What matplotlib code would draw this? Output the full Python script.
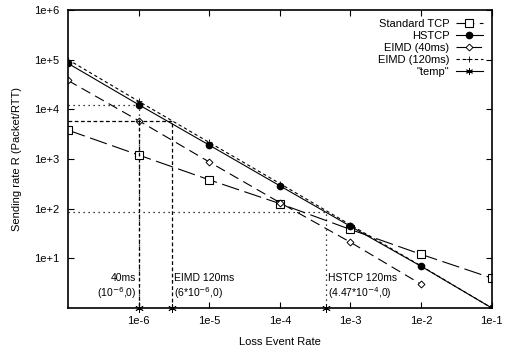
import matplotlib.pyplot as plt

plt.rcParams['font.family'] = ['Liberation Sans', 'DejaVu Sans']

# loss event rates where points are drawn
loss = [1e-7, 1e-6, 1e-5, 1e-4, 1e-3, 1e-2, 1e-1]
std_tcp = [3800, 1200, 380, 126, 38, 12, 4.0]
hstcp = [84000, 12400, 1900, 288, 44, 6.9, 1.0]
eimd_40 = [38000, 5900, 870, 132, 21, 3.0]
eimd_120 = [100000, 14500, 2150, 320, 47, 7.0, 1.0]

# crossing points ("temp") and their labels
temp_x = [1e-6, 2.95e-6, 4.47e-4]
temp_y = [1, 1, 1]
hstcp_40 = 12400
eimd_cross = 5800
hstcp_120 = 85

fig = plt.figure(figsize=(5.05, 3.56), dpi=100)
ax = fig.add_axes([0.1347, 0.135, 0.839, 0.837])

ax.plot(loss, std_tcp, color='black', lw=0.8, ls=(0, (16, 5)),
        marker='s', ms=5.5, mfc='white', mew=0.8, label='Standard TCP')
ax.plot(loss, hstcp, color='black', lw=0.8, ls='-',
        marker='o', ms=4.5, mfc='black', label='HSTCP')
ax.plot(loss[:len(eimd_40)], eimd_40, color='black', lw=0.8, ls=(0, (9, 5)),
        marker='D', ms=3.5, mfc='white', mew=0.7, label='EIMD (40ms)')
ax.plot(loss, eimd_120, color='black', lw=0.8, ls=(0, (3, 2.5)),
        marker='+', ms=4, mew=0.6, label='EIMD (120ms)')
ax.plot(temp_x, temp_y, color='black', lw=0.8, ls='none',
        marker=(6, 2, 0), ms=6, mew=0.6, clip_on=False, zorder=5)
ax.plot([], [], color='black', lw=0.8, marker=(6, 2, 0), ms=5, mew=0.6,
        label='"temp"')

# guide lines
ax.plot([1e-7, 1e-6, 1e-6], [hstcp_40, hstcp_40, 1], color='black', lw=0.9, ls=(0, (1, 3)))
ax.plot([1e-7, 2.95e-6, 2.95e-6], [eimd_cross, eimd_cross, 1], color='black', lw=0.9,
        ls=(0, (3, 2)))
ax.plot([1e-6, 1e-6], [eimd_cross, 1], color='black', lw=0.9, ls=(0, (3, 2)))
ax.plot([1e-7, 4.47e-4, 4.47e-4], [hstcp_120, hstcp_120, 1], color='black', lw=0.9,
        ls=(0, (1, 3)))

ax.text(0.93e-6, 1.4, '40ms\n(10$^{-6}$,0)', ha='right', va='bottom', fontsize=7.5,
        linespacing=1.15)
ax.text(3.15e-6, 1.4, 'EIMD 120ms\n(6*10$^{-6}$,0)', ha='left', va='bottom', fontsize=7.5,
        linespacing=1.15)
ax.text(4.8e-4, 1.4, 'HSTCP 120ms\n(4.47*10$^{-4}$,0)', ha='left', va='bottom',
        fontsize=7.5, linespacing=1.15)

ax.set_xscale('log')
ax.set_yscale('log')
ax.set_xlim(1e-7, 1e-1)
ax.set_ylim(1, 1e6)
ax.set_xticks([1e-6, 1e-5, 1e-4, 1e-3, 1e-2, 1e-1])
ax.set_xticklabels(['1e-6', '1e-5', '1e-4', '1e-3', '1e-2', '1e-1'])
ax.set_yticks([10, 1e2, 1e3, 1e4, 1e5, 1e6])
ax.set_yticklabels(['1e+1', '1e+2', '1e+3', '1e+4', '1e+5', '1e+6'])
ax.minorticks_off()
ax.tick_params(direction='in', length=4, width=0.8, top=True, right=True,
               labelsize=8, pad=6)
for s in ax.spines.values():
    s.set_linewidth(1.2)

ax.set_xlabel('Loss Event Rate', fontsize=8, labelpad=8)
ax.set_ylabel('Sending rate R (Packet/RTT)', fontsize=8, labelpad=9)

ax.legend(loc='upper right', frameon=False, markerfirst=False, fontsize=8,
          handlelength=2.4, labelspacing=0.18, borderaxespad=0.4, handletextpad=0.6)

fig.savefig('out.png', dpi=100)
